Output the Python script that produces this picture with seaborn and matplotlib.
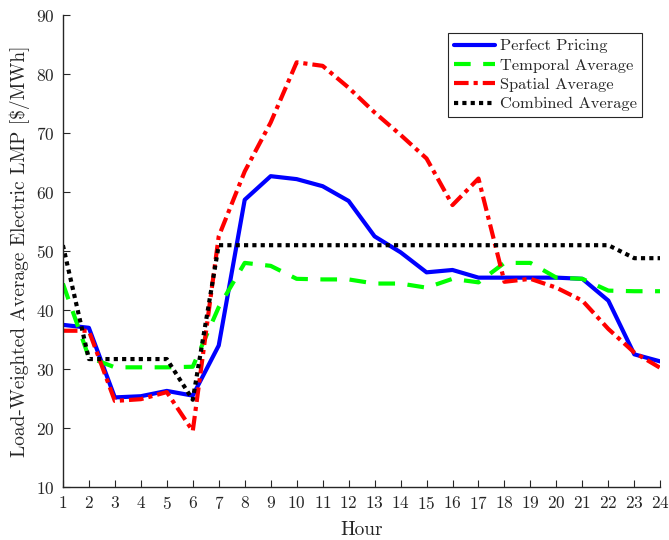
import numpy as np
import pandas as pd
import matplotlib
matplotlib.use("Agg")
import matplotlib.pyplot as plt
import seaborn as sns

hours = list(range(1, 25))
perfect = [37.5, 37.0, 25.2, 25.4, 26.3, 25.5, 34.0, 58.7, 62.7, 62.2, 61.0, 58.5,
           52.5, 49.8, 46.4, 46.8, 45.5, 45.5, 45.5, 45.5, 45.3, 41.6, 32.5, 31.3]
temporal = [44.5, 32.0, 30.3, 30.3, 30.3, 30.4, 40.5, 48.0, 47.5, 45.3, 45.2, 45.2,
            44.5, 44.5, 43.8, 45.3, 44.7, 48.0, 48.0, 45.5, 45.3, 43.3, 43.2, 43.2]
spatial = [36.5, 36.5, 24.6, 24.9, 26.1, 19.5, 52.5, 63.5, 71.8, 82.0, 81.4, 77.7,
           73.5, 69.7, 65.7, 57.8, 62.3, 44.8, 45.3, 43.8, 41.6, 36.8, 32.8, 30.2]
combined = [51.0, 31.7, 31.7, 31.7, 31.7, 24.8, 51.0, 51.0, 51.0, 51.0, 51.0, 51.0,
            51.0, 51.0, 51.0, 51.0, 51.0, 51.0, 51.0, 51.0, 51.0, 51.0, 48.8, 48.8]
labels = ["Perfect Pricing", "Temporal Average", "Spatial Average", "Combined Average"]

sns.set_theme(style="ticks")
plt.rcParams['font.family'] = ['cmr10', 'DejaVu Serif']
plt.rcParams['axes.formatter.use_mathtext'] = True
plt.rcParams['mathtext.fontset'] = 'cm'

fig = plt.figure(figsize=(6.69, 5.40), dpi=100)
ax = fig.add_axes([0.094, 0.098, 0.893, 0.874])

series = [perfect, temporal, spatial, combined]
colors = ["#0000ff", "#00ff00", "#ff0000", "#000000"]
styles = ["-", (0, (4, 3)), (0, (3.5, 1.2, 1, 1.2)), (0, (1, 1))]
for vals, lab, c, ls in zip(series, labels, colors, styles):
    df = pd.DataFrame({"Hour": hours, "Value": vals})
    sns.lineplot(data=df, x="Hour", y="Value", ax=ax, color=c, linestyle=ls,
                 linewidth=3, label=lab)

ax.set_xlim(1, 24)
ax.set_ylim(10, 90)
ax.set_xticks(hours)
ax.set_yticks(range(10, 91, 10))
ax.set_xlabel("Hour", fontsize=14, labelpad=6)
ax.set_ylabel("Load-Weighted Average Electric LMP [\\$/MWh]", fontsize=14, labelpad=4)
ax.tick_params(direction="in", length=5, width=0.8, labelsize=12.5, color="#262626",
               pad=6)
for s in ["top", "right"]:
    ax.spines[s].set_visible(False)
for s in ["left", "bottom"]:
    ax.spines[s].set_color("#262626")
    ax.spines[s].set_linewidth(1.0)

leg = ax.legend(loc="upper right", bbox_to_anchor=(0.970, 0.962), borderaxespad=0,
                fontsize=11.8, frameon=True, fancybox=False, edgecolor="#262626",
                framealpha=1, handlelength=2.5, handletextpad=0.3, borderpad=0.35,
                labelspacing=0.3)
leg.get_frame().set_linewidth(0.8)

fig.savefig("out.png", dpi=100)
